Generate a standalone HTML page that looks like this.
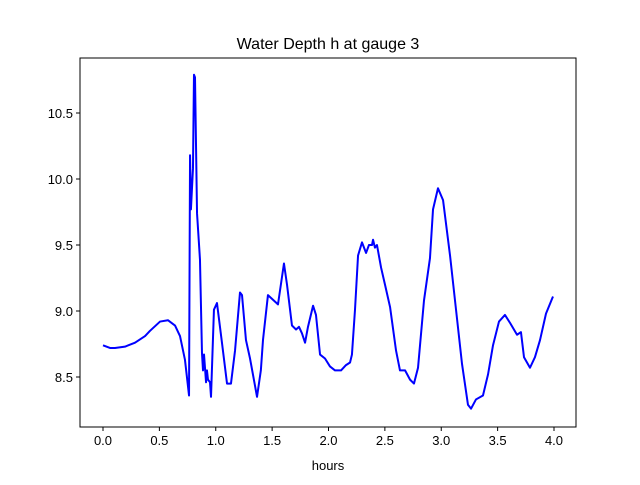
<!DOCTYPE html>
<html><head><meta charset="utf-8"><style>
body{margin:0;background:#fff}
svg text{font-family:"Liberation Sans","DejaVu Sans",sans-serif;fill:#000}
</style></head><body>
<svg id="chart" width="640" height="480" xmlns="http://www.w3.org/2000/svg">
<rect width="640" height="480" fill="#fff"/>
<text x="328" y="49" font-size="16" text-anchor="middle">Water Depth h at gauge 3</text>
<g id="plot"></g>
<text x="328" y="470" font-size="13" text-anchor="middle">hours</text>
</svg>
<script>
const xTicks=[0.0,0.5,1.0,1.5,2.0,2.5,3.0,3.5,4.0];
const xTickLabels=["0.0","0.5","1.0","1.5","2.0","2.5","3.0","3.5","4.0"];
const yTicks=[8.5,9.0,9.5,10.0,10.5];
const yTickLabels=["8.5","9.0","9.5","10.0","10.5"];
const hours=[0,0.062,0.106,0.195,0.284,0.373,0.417,0.506,0.576,0.639,0.683,0.727,0.763,0.772,0.780,0.798,0.807,0.816,0.834,0.860,0.878,0.887,0.896,0.914,0.922,0.931,0.949,0.958,0.984,1.011,1.055,1.100,1.135,1.171,1.215,1.233,1.268,1.304,1.366,1.400,1.419,1.463,1.552,1.605,1.632,1.676,1.712,1.738,1.765,1.792,1.818,1.863,1.889,1.925,1.969,2.013,2.058,2.111,2.155,2.191,2.208,2.235,2.262,2.297,2.333,2.359,2.386,2.395,2.412,2.430,2.466,2.501,2.546,2.599,2.634,2.679,2.723,2.758,2.794,2.847,2.900,2.927,2.971,3.016,3.078,3.131,3.184,3.237,3.264,3.308,3.370,3.415,3.459,3.512,3.565,3.610,3.672,3.707,3.734,3.787,3.831,3.876,3.929,3.991];
const depth=[8.74,8.72,8.72,8.73,8.76,8.81,8.85,8.92,8.93,8.89,8.81,8.63,8.36,10.18,9.77,10.08,10.79,10.77,9.74,9.39,8.68,8.55,8.67,8.46,8.55,8.48,8.46,8.35,9.01,9.06,8.76,8.45,8.45,8.70,9.14,9.12,8.78,8.64,8.35,8.55,8.78,9.12,9.05,9.36,9.20,8.89,8.86,8.88,8.83,8.76,8.88,9.04,8.97,8.67,8.64,8.58,8.55,8.55,8.59,8.61,8.67,9.01,9.42,9.52,9.44,9.50,9.50,9.54,9.48,9.50,9.33,9.20,9.03,8.70,8.55,8.55,8.48,8.45,8.57,9.08,9.40,9.77,9.93,9.84,9.42,9.01,8.60,8.29,8.26,8.33,8.36,8.52,8.74,8.92,8.97,8.91,8.82,8.84,8.65,8.57,8.65,8.78,8.98,9.11];
const L=80,R=576,T=58,B=427;
const xs=v=>103+(v-0)*112.75;
const ys=v=>311-(v-9.0)*132;
const NS="http://www.w3.org/2000/svg";
const g=document.getElementById('plot');
function mk(t,a){const e=document.createElementNS(NS,t);for(const k in a)e.setAttribute(k,a[k]);g.appendChild(e);return e;}
const pts=hours.map((h,i)=>xs(h).toFixed(2)+","+ys(depth[i]).toFixed(2)).join(" ");
const line=mk('polyline',{points:pts,fill:'none',stroke:'#0000ff','stroke-width':2,'stroke-linejoin':'round'});


const frame=mk('rect',{x:L,y:T,width:R-L,height:B-T,fill:'none',stroke:'#000','stroke-width':1});


xTicks.forEach((v,i)=>{
  const x=xs(v);
  const t=mk('line',{x1:x,x2:x,y1:B,y2:B+4,stroke:'#000'});
  
  
  const l=mk('text',{x:x,y:B+18,'font-size':13,'text-anchor':'middle'});
  l.textContent=xTickLabels[i];
  
  
});
yTicks.forEach((v,i)=>{
  const y=ys(v);
  const t=mk('line',{x1:L-4,x2:L,y1:y,y2:y,stroke:'#000'});
  
  
  const l=mk('text',{x:L-7,y:y+5,'font-size':13,'text-anchor':'end'});
  l.textContent=yTickLabels[i];
  
  
});
</script>
</body></html>
